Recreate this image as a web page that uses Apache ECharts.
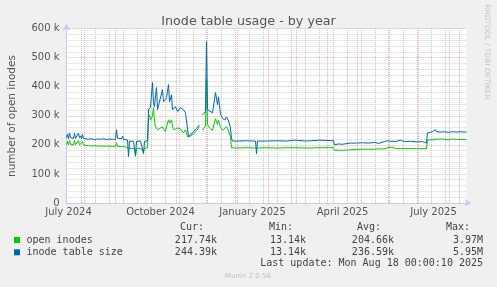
<!DOCTYPE html>
<html><head><meta charset="utf-8">
<script src="https://cdn.jsdelivr.net/npm/echarts@6/dist/echarts.min.js"></script>
<style>html,body{margin:0;padding:0;background:#f0f0f0}#c{width:497px;height:287px}</style>
</head><body><div id="c"></div>
<script>
// ---------- data ----------
const startDate = '2024-07-14';   // left edge of the graph
const endDate = '2025-08-18';     // right edge of the graph
// day offsets since startDate
const days = [0,1,2,3,4,5,6,7,8,9,10,11,12,13,14,15,16,17,18,19,22,25,28,31,34,37,40,43,46,49,
  50,51,53,55,56,57,59,61,62,63,65,67,68,69,70,72,74,76,77,78,80,81,82,83,84,86,87,88,89,90,91,93,
  96,97,99,100,102,103,105,106,107,109,111,114,116,117,119,121,122,124,127,130,133,134,136,139,140,
  141,143,146,149,151,152,154,156,158,160,162,164,165,166,170,180,189,190,191,200,210,220,228,229,
  240,253,254,267,268,270,272,274,276,278,280,282,284,290,296,302,308,312,314,318,321,324,326,330,
  334,338,344,350,352,356,360,361,363,366,369,370,374,378,382,386,390,394,398,400];
// open inodes (thousands)
const openInodes = [201,212,200,214,202,198,206,200,215,200,203,198,214,200,206,199,210,200,203,197,197,196,197,196,196,195,196,195,195,195,
  207,195,194,194,196,194,193,193,188,188,187,188,187,160,188,187,188,187,178,188,188,190,290,303,285,300,328,280,262,258,252,255,
  262,255,245,262,286,275,286,262,252,256,258,255,250,241,252,228,226,230,238,248,262,null,250,265,430,
  270,258,250,290,270,285,260,250,255,262,248,228,190,189,189,190,189,188,189,190,189,190,190,190,
  189,190,189,190,181,180,182,180,181,180,182,181,183,184,185,185,185,186,186,186,190,192,190,187,
  187,187,187,187,187,187,187,217,218,217,219,218,220,219,217,220,219,218,219,217.74];
// inode table size (thousands)
const tableSize = [224,236,221,241,225,219,230,222,239,222,227,219,240,224,231,221,235,222,226,220,219,221,218,220,219,221,218,220,219,219,
  252,223,218,221,230,219,218,217,160,213,211,212,211,165,212,211,213,211,170,212,211,214,320,325,330,414,345,331,370,397,321,322,
  390,348,355,362,407,348,372,321,325,331,314,328,331,320,310,314,228,234,245,256,269,null,303,314,555,
  321,315,310,380,338,365,305,292,285,296,282,258,222,213,213,214,213,169,213,213,214,213,216,213,
  213,216,213,214,200,196,203,197,202,198,204,199,206,206,207,206,208,205,210,211,214,212,217,212,
  216,211,212,210,216,211,206,241,244,245,252,245,244,245,243,245,244,245,244,244.39];
const yTickValues = [0,100,200,300,400,500,600];
const xLabelDates = ['2024-07-16','2024-10-16','2025-01-16','2025-04-16','2025-07-16'];
const xLabelTexts = ['July 2024','October 2024','January 2025','April 2025','July 2025'];
const seriesNames = ['open inodes','inode table size'];
const seriesColors = ['#00cc00','#0066b3'];
const statCur = ['217.74k','244.39k'];
const statMin = ['13.14k','13.14k'];
const statAvg = ['204.66k','236.59k'];
const statMax = ['3.97M','5.95M'];
const lastUpdate = 'Last update: Mon Aug 18 00:00:10 2025';

// ---------- build ----------
const DAY = 86400000;
const t0 = Date.parse(startDate + 'T00:00:00Z');
const t1 = Date.parse(endDate + 'T00:00:00Z');
const toT = d => t0 + d * DAY;
const green = days.map((d, i) => [toT(d), openInodes[i]]);
const blue = days.map((d, i) => [toT(d), tableSize[i]]);
const labelTimes = xLabelDates.map(s => Date.parse(s + 'T00:00:00Z'));

// vertical grid: month starts (major) and bi-weekly Mondays (minor)
const majorV = [];
for (let y = 2024, m = 7; ; m++) {
  if (m > 11) { m = 0; y++; }
  const t = Date.UTC(y, m, 1);
  if (t >= t1) break;
  majorV.push(t);
}
const minorV = [];
for (let t = Date.parse('2024-07-29T00:00:00Z'); t < t1; t += 14 * DAY) {
  if (!majorV.some(m => Math.abs(m - t) < DAY)) minorV.push(t);
}

const chart = echarts.init(document.getElementById('c'), null, {renderer: 'canvas'});
const mono = '10px "DejaVu Sans Mono"';
const txt = (text, x, y, align, opts) => Object.assign({
  type: 'text', x, y, silent: true,
  style: Object.assign({text, font: mono, fill: '#444', align, verticalAlign: 'middle'}, opts || {})
});
const graphics = [
  Object.assign(txt('number of open inodes', 12, 116, 'center', {font: '10.5px "DejaVu Sans"', fill: '#555'}), {rotation: Math.PI / 2}),
  Object.assign(txt('RRDTOOL / TOBI OETIKER', 487, 52, 'center', {font: '7.4px "DejaVu Sans"', fill: '#c4c4c4'}), {rotation: -Math.PI / 2}),
  txt('Cur:', 204, 227, 'right'), txt('Min:', 293, 227, 'right'),
  txt('Avg:', 381, 227, 'right'), txt('Max:', 470, 227, 'right'),
  txt(lastUpdate, 483, 263.5, 'right'),
  txt('Munin 2.0.56', 248, 276.5, 'center', {font: '7px "DejaVu Sans"', fill: '#c0c0c0'})
];
seriesNames.forEach((n, i) => {
  const y = 240 + i * 12.3;
  graphics.push({type: 'rect', silent: true, shape: {x: 14, y: y - 3, width: 6, height: 6}, style: {fill: seriesColors[i]}});
  graphics.push(txt(n, 26.5, y, 'left'));
  graphics.push(txt(statCur[i], 217, y, 'right'));
  graphics.push(txt(statMin[i], 306, y, 'right'));
  graphics.push(txt(statAvg[i], 394, y, 'right'));
  graphics.push(txt(statMax[i], 483, y, 'right'));
});

const axisCol = '#c6ccf2';
const redGrid = '#eeb0b0';
const greyGrid = '#d2d2d2';
const greyGridV = '#c8c8c8';
chart.setOption({
  animation: false,
  backgroundColor: '#f0f0f0',
  title: {
    text: 'Inode table usage - by year', left: 'center', top: 10,
    textStyle: {fontFamily: 'DejaVu Sans', fontSize: 12.7, fontWeight: 'normal', color: '#555'}
  },
  grid: {left: 66.5, right: 30.5, top: 28.5, bottom: 84, show: true, backgroundColor: '#ffffff', borderWidth: 0},
  xAxis: {
    type: 'value', min: t0, max: t1,
    axisLine: {show: true, lineStyle: {color: axisCol, width: 1}, symbol: ['none', 'arrow'], symbolSize: [6, 7], symbolOffset: [0, 5]},
    axisTick: {show: false},
    splitLine: {show: false},
    axisLabel: {
      customValues: labelTimes, margin: 4,
      formatter: v => { const i = labelTimes.indexOf(v); return i >= 0 ? xLabelTexts[i] : ''; },
      fontFamily: 'DejaVu Sans', fontSize: 10, color: '#555'
    }
  },
  yAxis: {
    type: 'value', min: 0, max: 600, interval: 20,
    axisLine: {show: true, lineStyle: {color: axisCol, width: 1}, symbol: ['none', 'arrow'], symbolSize: [6, 7], symbolOffset: [0, 5]},
    axisTick: {show: false},
    splitLine: {show: true, lineStyle: {color: [redGrid, greyGrid, greyGrid, greyGrid, greyGrid], type: [1, 1], width: 1}},
    axisLabel: {
      customValues: yTickValues, margin: 7,
      formatter: v => v === 0 ? '0' : v + ' k',
      fontFamily: 'DejaVu Sans', fontSize: 10, color: '#555'
    }
  },
  graphic: graphics,
  series: [
    {
      type: 'line', data: [], z: 1, silent: true,
      markLine: {
        silent: true, z: 1, symbol: ['none', 'none'], label: {show: false}, animation: false,
        data: minorV.map(t => ({xAxis: t, lineStyle: {color: greyGridV, type: [1, 1], width: 1}}))
          .concat(majorV.map(t => ({xAxis: t, lineStyle: {color: redGrid, type: [1, 1], width: 1}})))
      }
    },
    {
      name: seriesNames[0], type: 'line', data: green, z: 10, showSymbol: false, connectNulls: false,
      lineStyle: {color: seriesColors[0], width: 1}, itemStyle: {color: seriesColors[0]}
    },
    {
      name: seriesNames[1], type: 'line', data: blue, z: 11, showSymbol: false, connectNulls: false,
      lineStyle: {color: seriesColors[1], width: 1}, itemStyle: {color: seriesColors[1]}
    }
  ]
});
</script></body></html>
